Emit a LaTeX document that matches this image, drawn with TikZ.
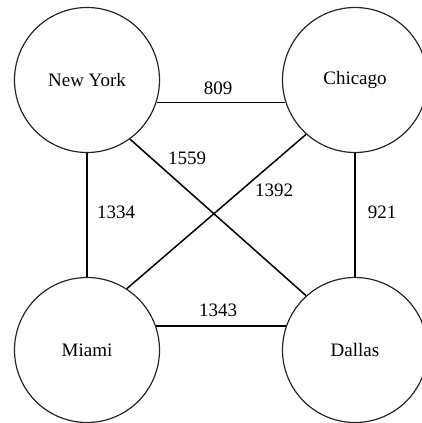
\documentclass[tikz,border=0pt]{standalone}
\usepackage{fontspec}
\setmainfont{Liberation Serif}
\begin{document}
\begin{tikzpicture}[x=0.5pt,y=-0.5pt]
            \tikzstyle{every node}+=[inner sep=0pt]
            \tikzstyle{city}=[draw=black!85, line width=0.6pt, circle, minimum size=72.5pt, font=\fontsize{9.5}{11}\selectfont]
            \tikzstyle{dist}=[font=\fontsize{9.5}{11}\selectfont]
            \tikzstyle{road}=[black, line width=0.75pt]
                \useasboundingbox (0,0) rectangle (422,423);
                \node [city] (ny) at (87,80) {New York};
                \node [city] (chi) at (355,80) {Chicago};
                \node [city] (mia) at (87,350) {Miami};
                \node [city] (dal) at (355,350) {Dallas};
                \draw [road] (ny.-18.5) -- (chi.198.5);
                \draw [road] (mia.19) -- (dal.161);
                \draw [road] (ny.south) -- (mia.north);
                \draw [road] (chi.south) -- (dal.north);
                \draw [road] (ny.-54) -- (dal.132);
                \draw [road] (chi.228.4) -- (mia.57);
                % weights
                \node [dist] (w809) at (218,88) {809};
                \node [dist] (w1559) at (187,158) {1559};
                \node [dist] (w1392) at (274,190) {1392};
                \node [dist] (w1334) at (116,212) {1334};
                \node [dist] (w921) at (382,212) {921};
                \node [dist] (w1343) at (218,310) {1343};
            \end{tikzpicture}
\end{document}
